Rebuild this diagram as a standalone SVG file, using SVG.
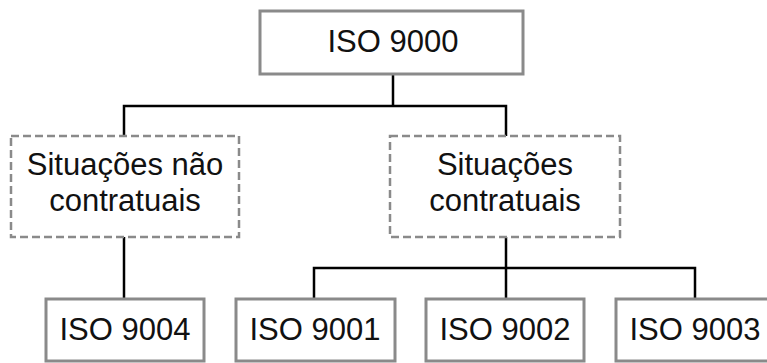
<svg xmlns="http://www.w3.org/2000/svg" width="767" height="363" viewBox="0 0 767 363">
<style>
.box{fill:#fff;stroke:#8a8a8a;stroke-width:3}
.dash{fill:#fff;stroke:#8a8a8a;stroke-width:2.5;stroke-dasharray:8 4}
.t{font-family:"Liberation Sans",Arial,sans-serif;font-size:31px;fill:#111;text-anchor:middle}
.c{fill:none;stroke:#000;stroke-width:2.5}
</style>
<rect width="767" height="363" fill="#fff"/>
<g id="connectors">
<path class="c" d="M393 74V106M124 136V106H506V136"/>
<path class="c" d="M124 237V299"/>
<path class="c" d="M506 237V299M314 299V268H695V299"/>
</g>
<g id="iso9000"><rect class="box" x="260" y="11" width="263" height="63"/><text class="t" x="393" y="52">ISO 9000</text></g>
<g id="naocontratuais"><rect class="dash" x="11" y="136" width="228" height="101"/><text class="t" x="125" y="175">Situações não</text><text class="t" x="125" y="211">contratuais</text></g>
<g id="contratuais"><rect class="dash" x="390" y="136" width="230" height="101"/><text class="t" x="505" y="175">Situações</text><text class="t" x="505" y="211">contratuais</text></g>
<g id="iso9004"><rect class="box" x="46" y="299" width="158" height="62"/><text class="t" x="125" y="340">ISO 9004</text></g>
<g id="iso9001"><rect class="box" x="236" y="299" width="159" height="62"/><text class="t" x="315" y="340">ISO 9001</text></g>
<g id="iso9002"><rect class="box" x="426" y="299" width="158" height="62"/><text class="t" x="505" y="340">ISO 9002</text></g>
<g id="iso9003"><rect class="box" x="616" y="299" width="160" height="62"/><text class="t" x="695" y="340">ISO 9003</text></g>
</svg>
